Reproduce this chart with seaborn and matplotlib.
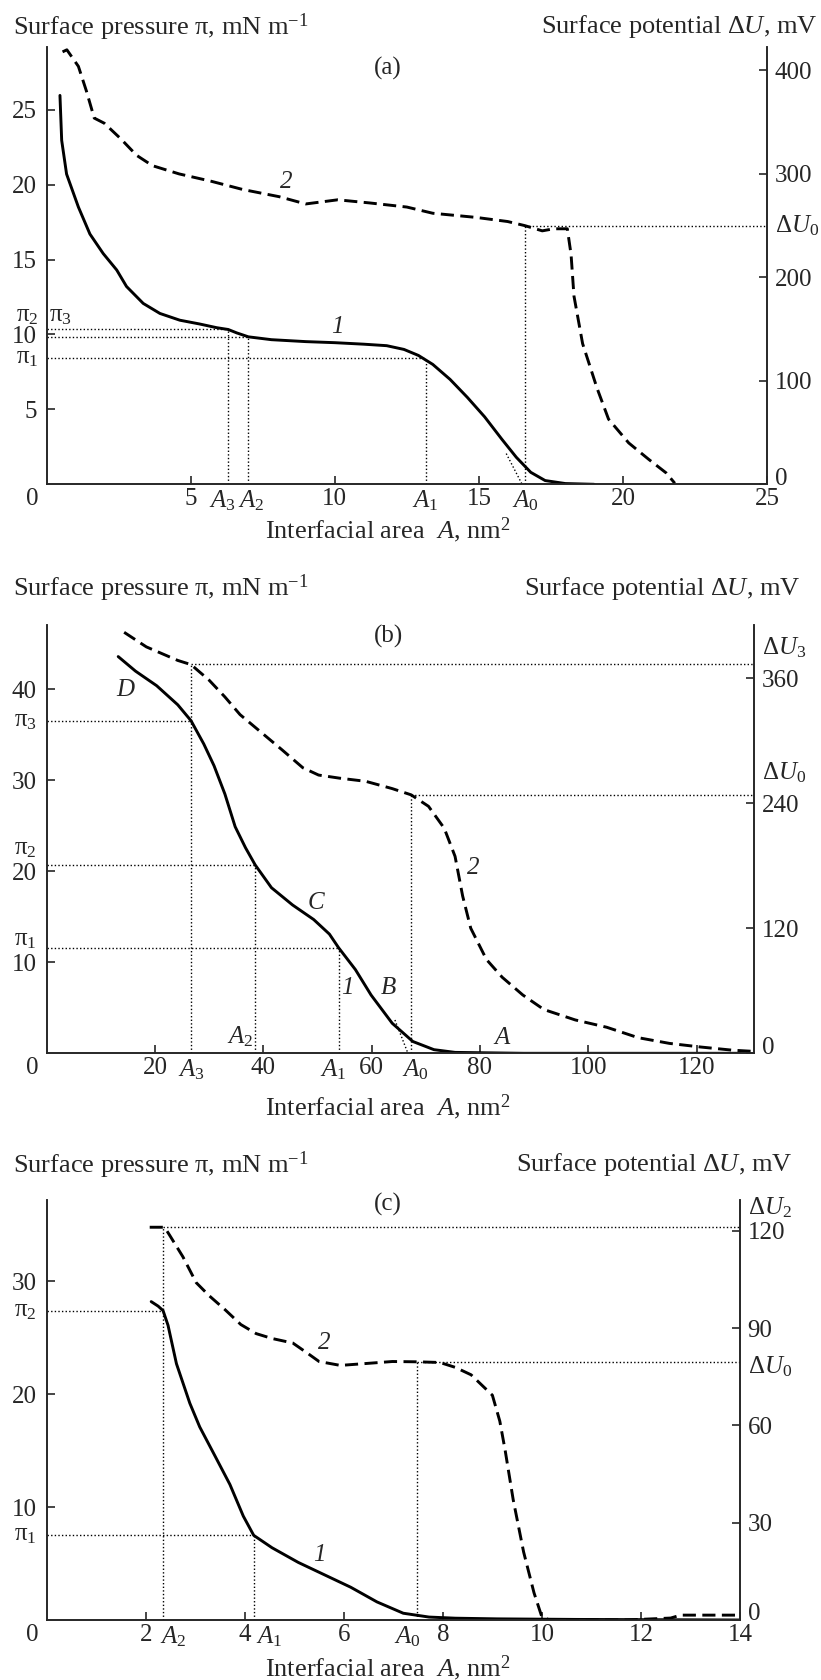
import matplotlib
matplotlib.use('Agg')
import matplotlib.pyplot as plt
import seaborn as sns

# --- data ---
# panel (a)
a_area1 = [0.46, 0.52, 0.69, 1.1, 1.5, 1.96, 2.43, 2.77, 3.35, 3.93, 4.62, 5.3, 5.9, 6.3, 6.6,
           7.0, 7.8, 9.0, 10.0, 11.0, 11.8, 12.4, 12.9, 13.4, 14.0, 14.6, 15.2, 15.8, 16.3,
           16.8, 17.3, 18.0, 19.0]
a_pi1 = [25.95, 22.95, 20.7, 18.5, 16.7, 15.4, 14.3, 13.2, 12.07, 11.4, 10.95, 10.7, 10.45,
         10.33, 10.1, 9.84, 9.65, 9.52, 9.45, 9.35, 9.25, 9.0, 8.6, 8.0, 7.0, 5.8, 4.5, 3.0,
         1.8, 0.8, 0.25, 0.05, 0.0]
a_area2 = [0.55, 0.7, 1.1, 1.38, 1.65, 2.0, 2.57, 3.12, 3.67, 4.6, 5.7, 6.8, 8.07, 8.99, 10.1,
           11.2, 12.5, 13.4, 14.9, 16.0, 16.6, 17.2, 17.6, 18.07, 18.2, 18.3, 18.6, 19.1, 19.5,
           20.2, 20.9, 21.5, 21.8]
a_du2 = [418, 420, 404, 380, 354, 349, 334, 318, 308, 300, 293, 285, 278, 271, 275, 272, 268,
         262, 258, 254, 250, 245, 247, 247, 222, 182, 136, 93, 63, 40, 24, 11, 1]
a_A = {'A3': 6.3, 'A2': 7.0, 'A1': 13.15, 'A0': 16.6}
a_pi = {'pi2': 10.33, 'pi3': 9.84, 'pi1': 8.44}
a_dU0 = 250
a_tan_x = [15.95, 16.5]
a_tan_y = [2.05, 0.0]

# panel (b)
b_area1 = [13.2, 16.4, 20.3, 24.2, 26.65, 29.0, 30.9, 32.9, 34.8, 36.7, 38.5, 41.5, 45.4,
           49.3, 52.2, 53.9, 57.0, 59.9, 63.8, 67.6, 71.5, 75.4, 88.0, 128.0]
b_pi1 = [43.6, 42.0, 40.4, 38.3, 36.55, 34.0, 31.6, 28.5, 24.9, 22.6, 20.7, 18.2, 16.3, 14.7,
         13.1, 11.6, 9.2, 6.4, 3.3, 1.3, 0.4, 0.1, 0.0, 0.0]
b_area2 = [14.3, 18.4, 24.2, 26.65, 30.0, 32.9, 35.7, 39.6, 43.5, 47.3, 50.2, 54.1, 58.9,
           63.8, 67.3, 70.5, 73.4, 75.4, 76.8, 78.3, 81.2, 84.1, 87.9, 91.8, 97.6, 103.4,
           109.2, 115.0, 120.8, 126.6, 130.0]
b_du2 = [404, 390, 377, 373, 358, 342, 325, 308, 291, 274, 267, 264, 261, 254, 248, 237, 216,
         189, 151, 120, 90, 73, 56, 42, 32, 25, 15, 9.5, 6, 3, 2]
b_A = {'A3': 26.65, 'A2': 38.5, 'A1': 53.9, 'A0': 67.3}
b_pi = {'pi3': 36.55, 'pi2': 20.7, 'pi1': 11.6}
b_dU3 = 373.7
b_dU0 = 248
b_tan_x = [64.3, 66.7]
b_tan_y = [3.66, 0.0]

# panel (c)
c_area1 = [2.11, 2.25, 2.35, 2.45, 2.62, 2.89, 3.09, 3.39, 3.7, 3.97, 4.18, 4.55, 5.08,
           5.61, 6.14, 6.67, 7.2, 7.72, 8.25, 9.1, 10.7, 14.0]
c_pi1 = [28.2, 27.8, 27.4, 26.1, 22.7, 19.2, 17.1, 14.6, 12.0, 9.2, 7.5, 6.4, 5.1, 4.0, 2.9,
         1.6, 0.6, 0.26, 0.16, 0.1, 0.05, 0.0]
c_area2 = [2.08, 2.38, 2.48, 2.75, 3.02, 3.28, 3.6, 3.92, 4.23, 4.55, 4.97, 5.29, 5.5, 5.93,
           6.46, 6.98, 7.51, 7.94, 8.25, 8.57, 9.0, 9.15, 9.26, 9.42, 9.63, 9.84, 10.0, 10.16,
           11.7, 12.6, 12.8, 14.0]
c_du2 = [121.1, 121.1, 118.7, 112, 104, 100, 95.7, 91.1, 88.3, 86.8, 85.4, 82, 79.7, 78.5,
         79.1, 79.7, 79.6, 79.4, 77.9, 75.6, 69.3, 61.3, 52.1, 37.1, 21, 8.4, 0.9, 0, 0, 0.6,
         1.5, 1.5]
c_A = {'A2': 2.35, 'A1': 4.18, 'A0': 7.48}
c_pi = {'pi2': 27.4, 'pi1': 7.5}
c_dU2 = 121.1
c_dU0 = 79.6

W, H = 821, 1680
FS = 18      # tick labels, curve labels
FT = 19      # titles and axis label

sns.set_theme(style='ticks')
plt.rcParams['font.family'] = ['Liberation Serif', 'DejaVu Serif']
plt.rcParams['mathtext.fontset'] = 'custom'
plt.rcParams['mathtext.rm'] = 'Liberation Serif'
plt.rcParams['mathtext.it'] = 'Liberation Serif:italic'
plt.rcParams['axes.linewidth'] = 1.2

fig = plt.figure(figsize=(W / 100, H / 100), dpi=100)

DOT = dict(color='black', lw=1.0, ls=(0, (1, 1.6)))
SOLID = dict(color='black', lw=2.1)
DASH = dict(color='black', lw=2.1, linestyle=(0, (4.5, 2.2)))


def make_axes(box, xlim, ylim, y2lim, xticks, yticks, y2ticks):
    l, r, t, b = box
    ax = fig.add_axes([l / W, 1 - b / H, (r - l) / W, (b - t) / H])
    ax2 = ax.twinx()
    ax.set_xlim(*xlim)
    ax.set_ylim(*ylim)
    ax2.set_ylim(*y2lim)
    for a in (ax, ax2):
        a.spines['top'].set_visible(False)
        a.tick_params(direction='in', length=6, width=1.2, labelsize=FS)
    ax.tick_params(axis='x', pad=3)
    ax.tick_params(axis='y', pad=7)
    ax2.tick_params(axis='y', pad=5.5)
    ax.set_xticks(xticks)
    ax.set_yticks(yticks)
    # the right-hand zero is drawn a little above the axis line
    ax2.set_yticks(y2ticks, labels=[''] + [str(v) for v in y2ticks[1:]])
    ax2.annotate('0', xy=(1, 0), xycoords='axes fraction', xytext=(5.5, 4),
                 textcoords='offset points', ha='left', va='center', fontsize=FS)
    ax.set_xlabel('')
    ax.set_ylabel('')
    ax2.set_ylabel('')
    # origin label
    ax.annotate('0', xy=(0, 0), xycoords='axes fraction', xytext=(-10.5, -3),
                textcoords='offset points', ha='center', va='top', fontsize=FS)
    return ax, ax2


def xlab(ax, text, x, dx=0):
    ax.annotate(text, xy=(x, 0), xycoords=('data', 'axes fraction'), xytext=(dx, -3),
                textcoords='offset points', ha='center', va='top', fontsize=FS)


def ylab(ax, text, y, dx=-7, dy=0):
    ax.annotate(text, xy=(0, y), xycoords=('axes fraction', 'data'), xytext=(dx, dy),
                textcoords='offset points', ha='right', va='center', fontsize=FS)


def rlab(ax, text, y, dy=0):
    ax.annotate(text, xy=(1, y), xycoords=('axes fraction', 'data'), xytext=(5.5, dy),
                textcoords='offset points', ha='left', va='center', fontsize=FS)


def titles(y, right_x):
    fig.text(13 / W, 1 - y / H, r'Surface pressure π, mN m$^{-1}$', fontsize=FT,
             ha='left', va='center')
    fig.text(right_x / W, 1 - y / H, r'Surface potential Δ$U$, mV', fontsize=FT,
             ha='right', va='center')


# ---------------- panel (a) ----------------
ax, ax2 = make_axes((46.7, 767, 46.7, 484.3), (0, 25), (0, 29.2), (0, 423),
                    [5, 10, 15, 20, 25], [5, 10, 15, 20, 25], [0, 100, 200, 300, 400])
sns.lineplot(x=a_area1, y=a_pi1, ax=ax, estimator=None, sort=False, **SOLID)
sns.lineplot(x=a_area2, y=a_du2, ax=ax2, estimator=None, sort=False, **DASH)
ax.plot([0, a_A['A3']], [a_pi['pi2']] * 2, **DOT)
ax.plot([0, a_A['A2']], [a_pi['pi3']] * 2, **DOT)
ax.plot([0, a_A['A1']], [a_pi['pi1']] * 2, **DOT)
ax.plot([a_A['A3']] * 2, [0, a_pi['pi2']], **DOT)
ax.plot([a_A['A2']] * 2, [0, a_pi['pi3']], **DOT)
ax.plot([a_A['A1']] * 2, [0, a_pi['pi1']], **DOT)
ax.plot(a_tan_x, a_tan_y, **DOT)
ax2.plot([a_A['A0'], 25], [a_dU0] * 2, **DOT)
ax2.plot([a_A['A0']] * 2, [0, a_dU0], **DOT)
xlab(ax, '$A_3$', a_A['A3'], -4)
xlab(ax, '$A_2$', a_A['A2'], 2)
xlab(ax, '$A_1$', a_A['A1'])
xlab(ax, '$A_0$', a_A['A0'])
ylab(ax, 'π$_2$', 11.2, dx=-6)
ax.annotate('π$_3$', xy=(0, 11.2), xycoords=('axes fraction', 'data'), xytext=(2, 0),
            textcoords='offset points', ha='left', va='center', fontsize=FS)
ylab(ax, 'π$_1$', 8.44, dx=-6)
rlab(ax2, 'Δ$U_0$', a_dU0)
ax.text(10.1, 10.5, '1', fontsize=FS, fontstyle='italic', ha='center', va='center')
ax2.text(8.3, 292, '2', fontsize=FS, fontstyle='italic', ha='center', va='center')
fig.text(388 / W, 1 - 68 / H, '(a)', fontsize=FS, ha='center', va='center')
titles(27, 817)
fig.text(388 / W, 1 - 530 / H, r'Interfacial area  $A$, nm$^2$', fontsize=FT,
         ha='center', va='center')

# ---------------- panel (b) ----------------
ax, ax2 = make_axes((46.7, 754, 625, 1053.3), (0, 130.6), (0, 47.07), (0, 411),
                    [20, 40, 60, 80, 100, 120], [10, 20, 30, 40], [0, 120, 240, 360])
sns.lineplot(x=b_area1, y=b_pi1, ax=ax, estimator=None, sort=False, **SOLID)
sns.lineplot(x=b_area2, y=b_du2, ax=ax2, estimator=None, sort=False, **DASH)
ax.plot([0, b_A['A3']], [b_pi['pi3']] * 2, **DOT)
ax.plot([0, b_A['A2']], [b_pi['pi2']] * 2, **DOT)
ax.plot([0, b_A['A1']], [b_pi['pi1']] * 2, **DOT)
ax.plot([b_A['A2']] * 2, [0, b_pi['pi2']], **DOT)
ax.plot([b_A['A1']] * 2, [0, b_pi['pi1']], **DOT)
ax.plot(b_tan_x, b_tan_y, **DOT)
ax2.plot([b_A['A3'], 130.6], [b_dU3] * 2, **DOT)
ax2.plot([b_A['A3']] * 2, [0, b_dU3], **DOT)
ax2.plot([b_A['A0'], 130.6], [b_dU0] * 2, **DOT)
ax2.plot([b_A['A0']] * 2, [0, b_dU0], **DOT)
xlab(ax, '$A_3$', b_A['A3'])
xlab(ax, '$A_1$', b_A['A1'], -4)
xlab(ax, '$A_0$', b_A['A0'], 3)
ax.text(35.7, 1.8, '$A_2$', fontsize=FS, ha='center', va='center')
ylab(ax, 'π$_3$', b_pi['pi3'])
ylab(ax, 'π$_2$', 22.4)
ylab(ax, 'π$_1$', 12.45)
rlab(ax2, 'Δ$U_3$', 389)
rlab(ax2, 'Δ$U_0$', 269)
ax.text(14.5, 39.9, 'D', fontsize=FS, fontstyle='italic', ha='center', va='center')
ax.text(49.8, 16.5, 'C', fontsize=FS, fontstyle='italic', ha='center', va='center')
ax.text(55.6, 7.2, '1', fontsize=FS, fontstyle='italic', ha='center', va='center')
ax.text(63.0, 7.2, 'B', fontsize=FS, fontstyle='italic', ha='center', va='center')
ax.text(84.0, 1.7, 'A', fontsize=FS, fontstyle='italic', ha='center', va='center')
ax.text(78.7, 20.4, '2', fontsize=FS, fontstyle='italic', ha='center', va='center')
fig.text(388 / W, 1 - 636 / H, '(b)', fontsize=FS, ha='center', va='center')
titles(588, 800)
fig.text(388 / W, 1 - 1107 / H, r'Interfacial area  $A$, nm$^2$', fontsize=FT,
         ha='center', va='center')

# ---------------- panel (c) ----------------
ax, ax2 = make_axes((46.7, 740, 1200, 1620), (0, 14), (0, 37.2), (0, 129.5),
                    [2, 4, 6, 8, 10, 12, 14], [10, 20, 30], [0, 30, 60, 90, 120])
sns.lineplot(x=c_area1, y=c_pi1, ax=ax, estimator=None, sort=False, **SOLID)
sns.lineplot(x=c_area2, y=c_du2, ax=ax2, estimator=None, sort=False, **DASH)
ax.plot([0, c_A['A2']], [c_pi['pi2']] * 2, **DOT)
ax.plot([0, c_A['A1']], [c_pi['pi1']] * 2, **DOT)
ax.plot([c_A['A1']] * 2, [0, c_pi['pi1']], **DOT)
ax2.plot([c_A['A2'], 14], [c_dU2] * 2, **DOT)
ax2.plot([c_A['A2']] * 2, [0, c_dU2], **DOT)
ax2.plot([c_A['A0'], 14], [c_dU0] * 2, **DOT)
ax2.plot([c_A['A0']] * 2, [0, c_dU0], **DOT)
xlab(ax, '$A_2$', 2.45, 4)
xlab(ax, '$A_1$', 4.39, 4)
xlab(ax, '$A_0$', 7.4, -4)
ylab(ax, 'π$_2$', c_pi['pi2'])
ylab(ax, 'π$_1$', c_pi['pi1'])
rlab(ax2, 'Δ$U_2$', 127)
rlab(ax2, 'Δ$U_0$', 78)
ax.text(5.5, 5.8, '1', fontsize=FS, fontstyle='italic', ha='center', va='center')
ax.text(5.6, 24.5, '2', fontsize=FS, fontstyle='italic', ha='center', va='center')
fig.text(388 / W, 1 - 1204 / H, '(c)', fontsize=FS, ha='center', va='center')
titles(1165, 792)
fig.text(388 / W, 1 - 1668 / H, r'Interfacial area  $A$, nm$^2$', fontsize=FT,
         ha='center', va='center')

fig.savefig('out.png', dpi=100)
